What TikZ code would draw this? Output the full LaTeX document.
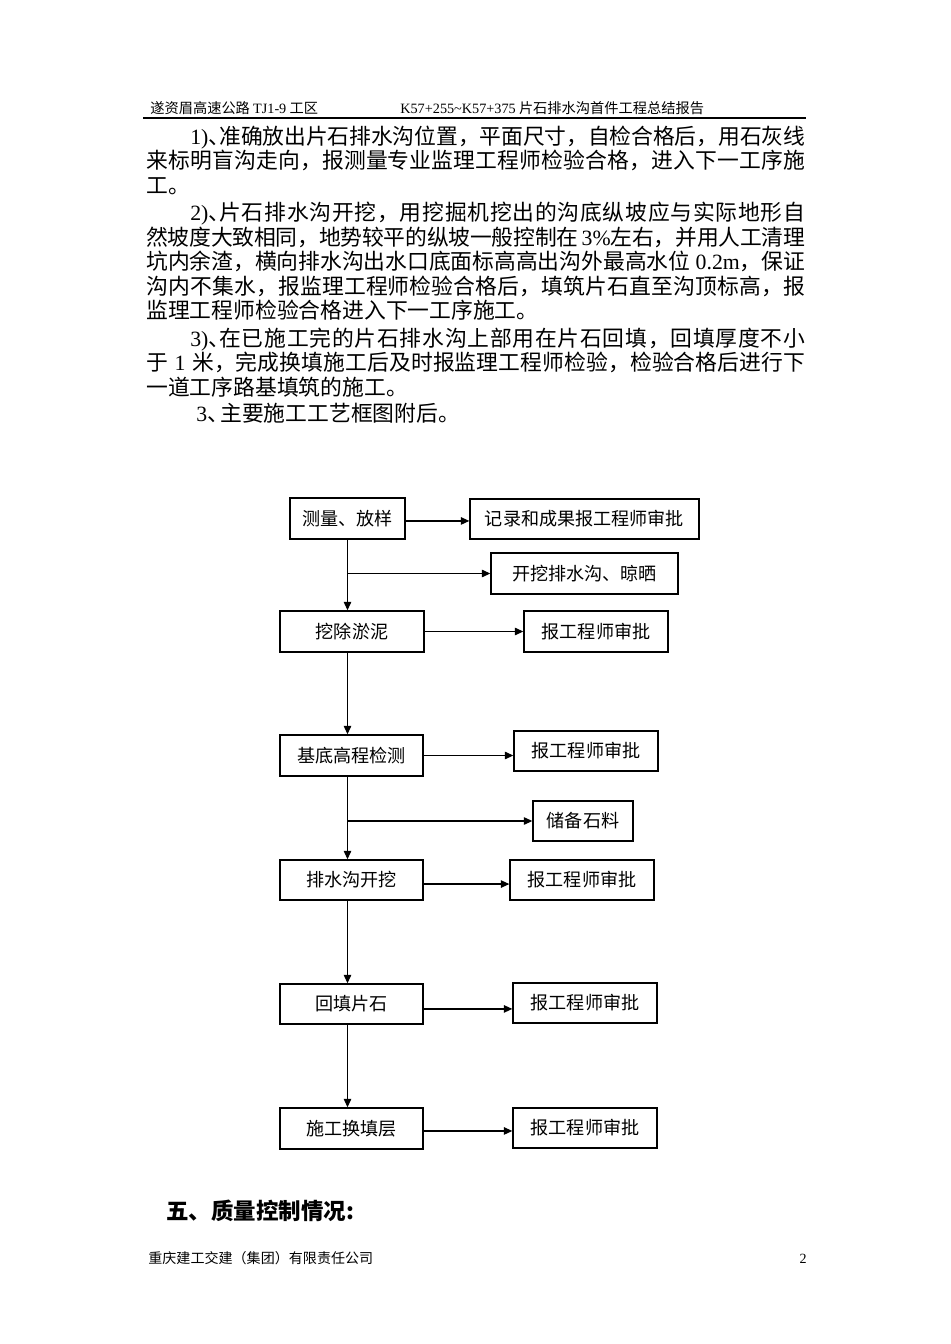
\documentclass[tikz,border=0pt]{standalone}
\usepackage{fontspec}
\setmainfont{Liberation Serif}
\newfontfamily\cjk{Noto Sans CJK SC}
\usetikzlibrary{arrows.meta}
% glue between Chinese characters, so that full lines can be justified
\newcount\hancode
\hancode="4E00
\loop
  \XeTeXcharclass\hancode=10
  \ifnum\hancode<"9FFF \advance\hancode by 1
\repeat
\XeTeXcharclass"FF0C=11 \XeTeXcharclass"3001=11 \XeTeXcharclass"3002=11
\XeTeXinterchartoks 10 10 = {\hskip 0pt plus 3pt minus 0.5pt\relax}
\XeTeXinterchartoks 10 11 = {\hskip 0pt plus 3pt minus 0.5pt\relax}
\XeTeXinterchartoks 11 10 = {\hskip 0pt plus 3pt minus 0.5pt\relax}
\XeTeXinterchartoks 0 10 = {\hskip 0pt plus 3pt minus 0.5pt\relax}
\XeTeXinterchartoks 10 0 = {\hskip 0pt plus 3pt minus 0.5pt\relax}

\tikzset{
  bodytext/.style={anchor=base west, inner sep=0pt, font=\cjk\fontsize{12.4}{14}\selectfont},
  smalltext/.style={anchor=base west, inner sep=0pt, font=\cjk\fontsize{8.1}{10}\selectfont},
  flowbox/.style={draw, line width=0.8pt, inner sep=0pt, minimum height=0.82cm, font=\cjk\fontsize{10.3}{12}\selectfont},
  flowarrow/.style={line width=0.7pt, -{Triangle[length=0.17cm,width=0.15cm]}},
}
% one justified line of the body text
\newcommand{\fullline}[4]{%
  \node[bodytext] (#1) at (#2) {\makebox[#3][s]{\XeTeXinterchartokenstate=1 #4}};
}

\begin{document}
\begin{tikzpicture}[x=0.02cm,y=-0.02cm]
  % Page
  \fill[white] (0,0) rectangle (950,1344);
  \useasboundingbox (0,0) rectangle (950,1344);

  % Draw the header
  \node[smalltext] (headleft) at (150,113.4) {遂资眉高速公路 {\rmfamily TJ1-9} 工区};
  \node[smalltext] (headright) at (400,113.4) {{\rmfamily K57+255\textasciitilde K57+375} 片石排水沟首件工程总结报告};
  \draw[line width=0.8pt] (143,118) -- (806,118);

  % Body text
  \fullline{l1}{190,145}{12.3cm}{{\rmfamily 1)}、\kern-0.5em 准确放出片石排水沟位置，平面尺寸，自检合格后，用石灰线}
  \fullline{l2}{146,169}{13.18cm}{来标明盲沟走向，报测量专业监理工程师检验合格，进入下一工序施}
  \node[bodytext] (l3) at (146,194) {工。};
  \fullline{l4}{190,221}{12.3cm}{{\rmfamily 2)}、\kern-0.5em 片石排水沟开挖，用挖掘机挖出的沟底纵坡应与实际地形自}
  \fullline{l5}{146,246}{13.18cm}{然坡度大致相同，地势较平的纵坡一般控制在\kern0.15em{\rmfamily 3\%}左右，并用人工清理}
  \fullline{l6}{146,270}{13.18cm}{坑内余渣，横向排水沟出水口底面标高高出沟外最高水位\kern0.25em{\rmfamily 0.2m}，保证}
  \fullline{l7}{146,295}{13.18cm}{沟内不集水，报监理工程师检验合格后，填筑片石直至沟顶标高，报}
  \node[bodytext] (l8) at (146,319) {监理工程师检验合格进入下一工序施工。};
  \fullline{l9}{190,347}{12.3cm}{{\rmfamily 3)}、\kern-0.5em 在已施工完的片石排水沟上部用在片石回填，回填厚度不小}
  \fullline{l10}{146,371}{13.18cm}{于\kern0.3em{\rmfamily 1}\kern0.3em 米，完成换填施工后及时报监理工程师检验，检验合格后进行下}
  \node[bodytext] (l11) at (146,396) {一道工序路基填筑的施工。};
  \node[bodytext] (l12) at (196,421) {{\rmfamily 3}、\kern-0.4em 主要施工工艺框图附后。};

  % Draw the boxes
  \node[flowbox, minimum width=2.3cm] (celiang) at (347.5,518.5) {测量、放样};
  \node[flowbox, minimum width=4.58cm, minimum height=0.8cm] (jilu) at (584.5,519) {记录和成果报工程师审批};
  \node[flowbox, minimum width=3.74cm] (kaiwa) at (584.5,573.5) {开挖排水沟、晾晒};
  \node[flowbox, minimum width=2.88cm] (wachu) at (352,631.5) {挖除淤泥};
  \node[flowbox, minimum width=2.88cm] (bao1) at (596,631.5) {报工程师审批};
  \node[flowbox, minimum width=2.86cm] (jidi) at (351.5,755.5) {基底高程检测};
  \node[flowbox, minimum width=2.88cm, minimum height=0.8cm] (bao2) at (586,751) {报工程师审批};
  \node[flowbox, minimum width=2.0cm, minimum height=0.8cm] (chubei) at (583,821) {储备石料};
  \node[flowbox, minimum width=2.86cm, minimum height=0.8cm] (paishui) at (351.5,880) {排水沟开挖};
  \node[flowbox, minimum width=2.88cm, minimum height=0.8cm] (bao3) at (582,880) {报工程师审批};
  \node[flowbox, minimum width=2.86cm, minimum height=0.8cm] (huitian) at (351.5,1004) {回填片石};
  \node[flowbox, minimum width=2.88cm, minimum height=0.8cm] (bao4) at (585,1003) {报工程师审批};
  \node[flowbox, minimum width=2.86cm] (shigong) at (351.5,1128.5) {施工换填层};
  \node[flowbox, minimum width=2.88cm, minimum height=0.8cm] (bao5) at (585,1128) {报工程师审批};

  % Main line
  \draw[flowarrow] (celiang.south) -- (celiang.south |- wachu.north);
  \draw[flowarrow] (wachu.south -| celiang.south) -- (jidi.north -| celiang.south);
  \draw[flowarrow] (jidi.south -| celiang.south) -- (paishui.north -| celiang.south);
  \draw[flowarrow] (paishui.south -| celiang.south) -- (huitian.north -| celiang.south);
  \draw[flowarrow] (huitian.south -| celiang.south) -- (shigong.north -| celiang.south);

  % Branches
  \draw[flowarrow] ([yshift=-1.4pt]celiang.east) -- ([yshift=-1.4pt]celiang.east -| jilu.west);
  \draw[flowarrow] (kaiwa.west -| celiang.south) -- (kaiwa.west);
  \draw[flowarrow] (wachu.east) -- (wachu.east -| bao1.west);
  \draw[flowarrow] (jidi.east) -- (jidi.east -| bao2.west);
  \draw[flowarrow] (chubei.west -| celiang.south) -- (chubei.west);
  \draw[flowarrow] ([yshift=-2.3pt]paishui.east) -- ([yshift=-2.3pt]paishui.east -| bao3.west);
  \draw[flowarrow] ([yshift=-2.8pt]huitian.east) -- ([yshift=-2.8pt]huitian.east -| bao4.west);
  \draw[flowarrow] ([yshift=-1.4pt]shigong.east) -- ([yshift=-1.4pt]shigong.east -| bao5.west);

  % Heading and footer
  \node[anchor=base west, inner sep=0pt, font=\cjk\bfseries\fontsize{12.8}{15}\selectfont] (wu) at (166,1219) {五、质量控制情况:};
  \node[smalltext, font=\cjk\fontsize{8}{10}\selectfont] (foot) at (148,1263) {重庆建工交建（集团）有限责任公司};
  \node[anchor=base east, inner sep=0pt, font=\fontsize{8}{10}\selectfont] (pageno) at (807,1263) {2};
\end{tikzpicture}
\end{document}
